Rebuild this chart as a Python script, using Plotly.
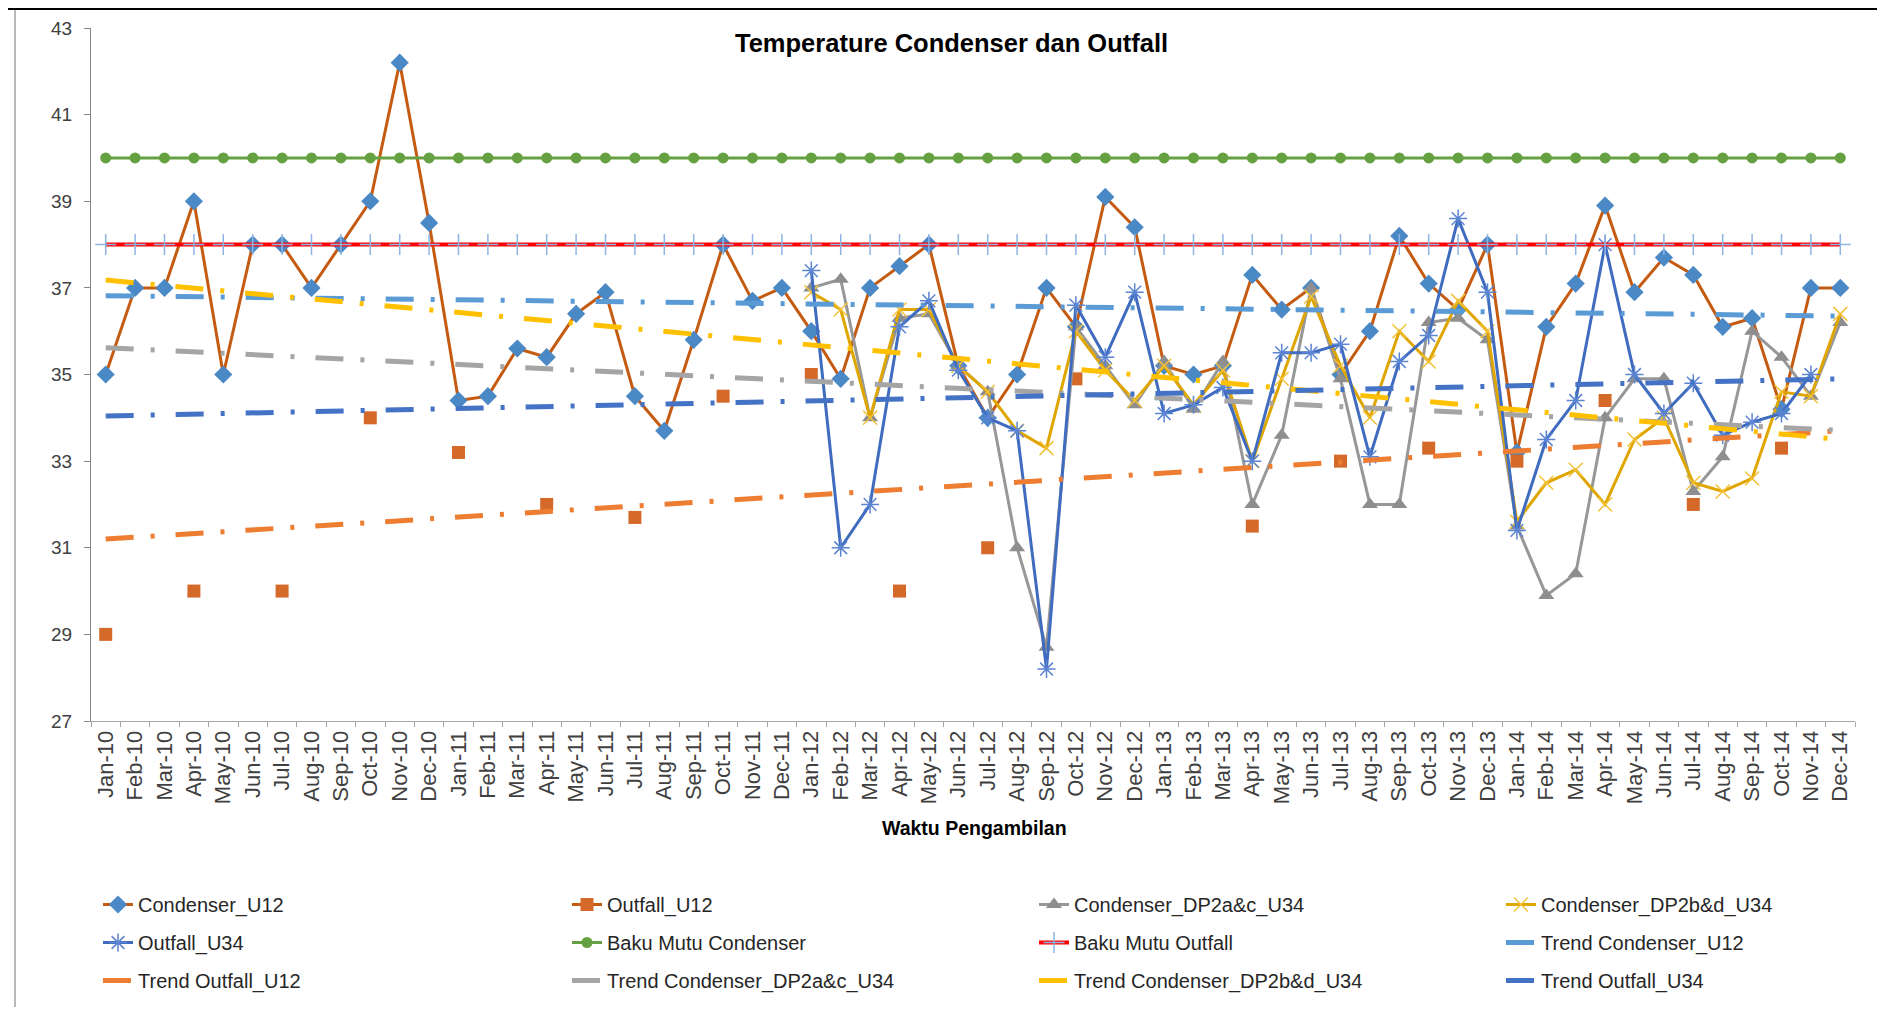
import plotly.graph_objects as go

MONTHS = [f"{m}-{y}" for y in ["10", "11", "12", "13", "14"]
          for m in ["Jan", "Feb", "Mar", "Apr", "May", "Jun",
                    "Jul", "Aug", "Sep", "Oct", "Nov", "Dec"]]

condenser_u12 = [
    35.0, 37.0, 37.0, 39.0, 35.0, 38.0, 38.0, 37.0, 38.0, 39.0, 42.2, 38.5,
    34.4, 34.5, 35.6, 35.4, 36.4, 36.9, 34.5, 33.7, 35.8, 38.0, 36.7, 37.0,
    36.0, 34.9, 37.0, 37.5, 38.0, 35.2, 34.0, 35.0, 37.0, 36.1, 39.1, 38.4,
    35.2, 35.0, 35.2, 37.3, 36.5, 37.0, 35.0, 36.0, 38.2, 37.1, 36.5, 38.0,
    33.2, 36.1, 37.1, 38.9, 36.9, 37.7, 37.3, 36.1, 36.3, 34.2, 37.0, 37.0,
]
outfall_u12 = [
    29.0, None, None, 30.0, None, None, 30.0, None, None, 34.0, None, None,
    33.2, None, None, 32.0, None, None, 31.7, None, None, 34.5, None, None,
    35.0, None, None, 30.0, None, None, 31.0, None, None, 34.9, None, None,
    None, None, None, 31.5, None, None, 33.0, None, None, 33.3, None, None,
    33.0, None, None, 34.4, None, None, 32.0, None, None, 33.3, None, None,
]
dp2ac_u34 = [None] * 24 + [
    37.0, 37.2, 34.0, 36.3, 36.4, 35.2, 34.6, 31.0, 28.7, 36.1, 35.2, 34.3,
    35.3, 34.2, 35.3, 32.0, 33.6, 37.0, 34.9, 32.0, 32.0, 36.2, 36.3, 35.8,
    31.5, 29.9, 30.4, 34.0, 34.9, 34.9, 32.3, 33.1, 36.0, 35.4, 34.5, 36.2,
]
dp2bd_u34 = [None] * 24 + [
    36.9, 36.5, 34.0, 36.5, 36.5, 35.2, 34.6, 33.7, 33.3, 36.0, 35.1, 34.4,
    35.2, 34.3, 35.1, 33.0, 34.9, 36.8, 35.2, 34.0, 36.0, 35.3, 36.7, 36.0,
    31.6, 32.5, 32.8, 32.0, 33.5, 34.0, 32.5, 32.3, 32.6, 34.6, 34.5, 36.4,
]
outfall_u34 = [None] * 24 + [
    37.4, 31.0, 32.0, 36.1, 36.7, 35.1, 34.0, 33.7, 28.2, 36.6, 35.4, 36.9,
    34.1, 34.3, 34.7, 33.0, 35.5, 35.5, 35.7, 33.1, 35.3, 35.9, 38.6, 36.9,
    31.4, 33.5, 34.4, 38.0, 35.0, 34.1, 34.8, 33.6, 33.9, 34.1, 35.0, None,
]
baku_condenser = [40.0] * 60
baku_outfall = [38.0] * 60

# trendline end points (Jan-10, Dec-14)
trend_condenser_u12 = [36.82, 36.35]
trend_outfall_u12 = [31.2, 33.7]
trend_dp2ac_u34 = [35.62, 33.71]
trend_dp2bd_u34 = [37.18, 33.5]
trend_outfall_u34 = [34.04, 34.9]

FONT = "Liberation Sans, Arial, sans-serif"
OFF = 8  # the page body adds an 8px margin, so the figure is drawn 8px in
W, H = 1885 - 2 * OFF, 1015 - 2 * OFF
PW, PH = 1764, 693
L, T = 91 - OFF, 28 - OFF
R, B = W - L - PW, H - T - PH


# helpers: window pixel position -> paper coordinates
def px_x(px):
    return (px - OFF - L) / PW


def px_y(py):
    return (T + PH - (py - OFF)) / PH


TREND_DASH = "28px,17px,4px,21px"

fig = go.Figure()


def series(name, y, color, symbol, msize, mcolor, legend, width=3, mline=None):
    marker = dict(symbol=symbol, size=msize, color=mcolor)
    if mline:
        marker["line"] = dict(color=mcolor, width=mline)
    fig.add_trace(go.Scatter(
        x=MONTHS, y=y, name=name, mode="lines+markers",
        line=dict(color=color, width=width), marker=marker,
        connectgaps=False, legend=legend, legendgroup=name,
    ))


def trend(name, y, color, legend):
    fig.add_trace(go.Scatter(
        x=[MONTHS[0], MONTHS[-1]], y=y, name=name, mode="lines",
        line=dict(color=color, width=5, dash=TREND_DASH),
        legend=legend, legendgroup=name,
    ))


series("Condenser_U12", condenser_u12, "#C55A11", "diamond", 14, "#4A89C5", "legend")
series("Outfall_U12", outfall_u12, "#C55A11", "square", 13, "#D4692A", "legend2")
series("Condenser_DP2a&c_U34", dp2ac_u34, "#979797", "triangle-up", 14, "#8E8E8E", "legend3")
series("Condenser_DP2b&d_U34", dp2bd_u34, "#DFA600", "x-thin-open", 14, "#F2C23A", "legend4", mline=1.5)
series("Outfall_U34", outfall_u34, "#3F6CBF", "asterisk-open", 15, "#5B84D2", "legend", mline=1.5)
series("Baku Mutu Condenser", baku_condenser, "#65A141", "circle", 11, "#65A141", "legend2")
series("Baku Mutu Outfall", baku_outfall, "#FF0000", "cross-thin-open", 15, "#8FB4E3", "legend3", width=4, mline=1.5)
trend("Trend Condenser_U12", trend_condenser_u12, "#5B9BD5", "legend4")
trend("Trend Outfall_U12", trend_outfall_u12, "#ED7D31", "legend")
trend("Trend Condenser_DP2a&c_U34", trend_dp2ac_u34, "#A5A5A5", "legend2")
trend("Trend Condenser_DP2b&d_U34", trend_dp2bd_u34, "#FFC000", "legend3")
trend("Trend Outfall_U34", trend_outfall_u34, "#4472C4", "legend4")

legend_style = dict(
    orientation="v", yanchor="top", xanchor="left", y=px_y(885),
    font=dict(family=FONT, size=20, color="#262626"),
    bgcolor="rgba(0,0,0,0)", traceorder="grouped", tracegroupgap=9,
)
fig.update_layout(
    legend=dict(legend_style, x=px_x(98)),
    legend2=dict(legend_style, x=px_x(567)),
    legend3=dict(legend_style, x=px_x(1034)),
    legend4=dict(legend_style, x=px_x(1501)),
)

fig.update_layout(
    width=W, height=H,
    margin=dict(l=L, r=R, t=T, b=B, autoexpand=False),
    paper_bgcolor="white", plot_bgcolor="white",
    font=dict(family=FONT, color="#404040"),
    xaxis=dict(
        type="category", range=[-0.5, len(MONTHS) - 0.5],
        tickson="boundaries", ticks="outside", ticklen=5,
        tickcolor="#A6A6A6", showline=True, linecolor="#A6A6A6", linewidth=1,
        tickangle=-90, tickfont=dict(size=22, color="#404040"),
        showgrid=False, zeroline=False,
    ),
    yaxis=dict(
        range=[27, 43], tick0=27, dtick=2, ticks="outside", ticklen=6,
        tickcolor="#868686", showline=True, linecolor="#868686", linewidth=1,
        tickfont=dict(size=19, color="#404040"), ticklabelstandoff=8,
        showgrid=False, zeroline=False,
    ),
    annotations=[
        dict(text="<b>Temperature Condenser dan Outfall</b>", xref="paper", yref="paper",
             x=px_x(951), y=px_y(43), xanchor="center", yanchor="middle", showarrow=False,
             font=dict(family=FONT, size=25.5, color="black")),
        dict(text="<b>Waktu Pengambilan</b>", xref="paper", yref="paper",
             x=px_x(975), y=px_y(828), xanchor="center", yanchor="middle", showarrow=False,
             font=dict(family=FONT, size=19.5, color="black")),
    ],
    shapes=[
        dict(type="line", xref="paper", yref="paper", x0=px_x(0), x1=px_x(1885),
             y0=px_y(9), y1=px_y(9), line=dict(color="black", width=2)),
        dict(type="line", xref="paper", yref="paper", x0=px_x(15), x1=px_x(15),
             y0=px_y(10), y1=px_y(1015), line=dict(color="#A0A0A0", width=1.5)),
    ],
)

fig.write_html("out.html")
